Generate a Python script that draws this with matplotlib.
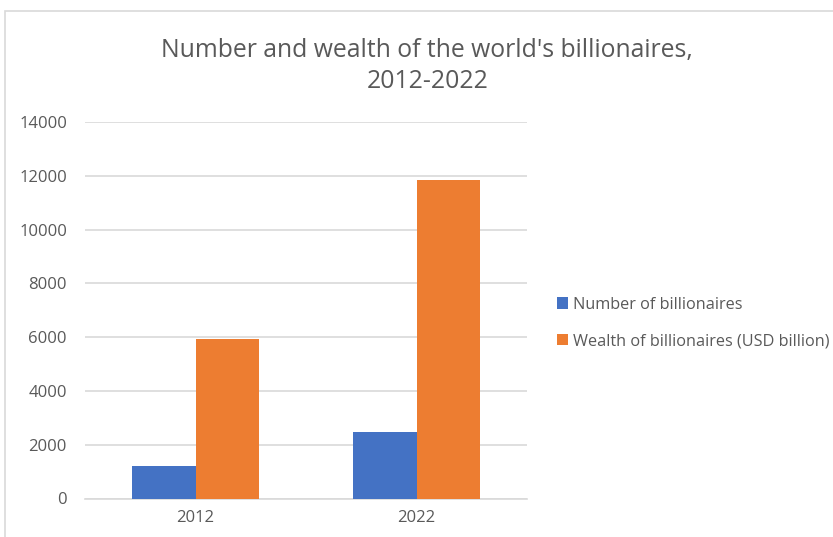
import matplotlib
matplotlib.use("Agg")
import matplotlib.pyplot as plt
from matplotlib.patches import Rectangle
import numpy as np

categories = ["2012", "2022"]
series_names = ["Number of billionaires", "Wealth of billionaires (USD billion)"]
number_of_billionaires = [1220, 2470]
wealth_usd_billion = [5940, 11850]
yticks = [0, 2000, 4000, 6000, 8000, 10000, 12000, 14000]

colors = ["#4472C4", "#ED7D31"]
text_color = "#595959"
plt.rcParams['font.family'] = ['Open Sans', 'DejaVu Sans']

W, H = 833, 537
fig = plt.figure(figsize=(W / 100, H / 100), dpi=100)
fig.patch.set_facecolor("white")

# chart frame
fig.patches.append(Rectangle((5 / W, -0.1), 1.2, 1 - 11 / H + 0.1, transform=fig.transFigure,
                             fill=False, edgecolor="#d9d9d9", linewidth=1.2))

ax = fig.add_axes([85 / W, 1 - 498.5 / H, (527 - 85) / W, (498.5 - 122) / H])
x = np.arange(len(categories))
bw = 1 / 3.5
ax.bar(x - bw / 2, number_of_billionaires, bw, color=colors[0], label=series_names[0], zorder=3)
ax.bar(x + bw / 2, wealth_usd_billion, bw, color=colors[1], label=series_names[1], zorder=3)

ax.set_xlim(-0.5, len(categories) - 0.5)
ax.set_ylim(0, 14000)
ax.set_yticks(yticks)
ax.set_yticklabels([str(v) for v in yticks])
ax.set_xticks(x)
ax.set_xticklabels(categories)
ax.yaxis.grid(True, color="#d9d9d9", linewidth=1.2, zorder=0)
ax.set_axisbelow(True)
for s in ["top", "right", "left"]:
    ax.spines[s].set_visible(False)
ax.spines["bottom"].set_color("#d9d9d9")
ax.spines["bottom"].set_linewidth(1.2)
ax.tick_params(axis="both", length=0, colors=text_color, labelsize=12)
ax.tick_params(axis="y", pad=13)
ax.tick_params(axis="x", pad=8)

fig.text(427 / W, 1 - 50 / H, "Number and wealth of the world's billionaires,", ha="center", va="center",
         fontsize=17.8, color=text_color)
fig.text(428 / W, 1 - 82 / H, "2012-2022", ha="center", va="center", fontsize=17.8, color=text_color)

leg = fig.legend(loc="center left", bbox_to_anchor=(542 / W, 1 - 323 / H), frameon=False,
                 fontsize=11.7, labelcolor=text_color, handlelength=0.7, handleheight=0.7,
                 handletextpad=0.3, labelspacing=1.25)

fig.savefig("out.png", dpi=100)
